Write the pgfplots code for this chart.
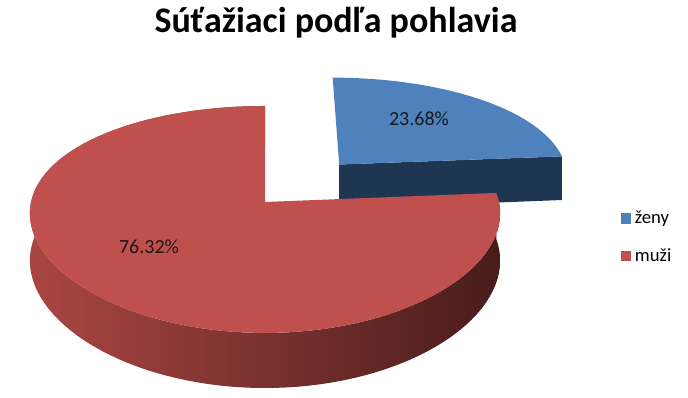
\documentclass[border=0pt]{standalone}
\usepackage{fontspec}
\setmainfont{Carlito}
\usepackage{pgfplots}
\pgfplotsset{compat=1.18}
\definecolor{zblue}{RGB}{79,129,189}
\definecolor{zblueside}{RGB}{31,54,83}
\definecolor{mred}{RGB}{192,80,77}
\definecolor{mredL}{RGB}{170,70,66}
\definecolor{mredR}{RGB}{72,28,28}
% data (percent)
\def\vZ{23.68}
\def\vM{76.32}
\pgfmathsetmacro\aZs{90-3.6*\vZ}
\pgfmathsetmacro\aZe{90}
\pgfmathsetmacro\aMs{90}
\pgfmathsetmacro\aMe{90+3.6*\vM}
\pgfmathsetmacro\aMid{(\aZs+\aZe)/2}
\pgfmathsetmacro\uZ{0.485*cos(\aMid)}
\pgfmathsetmacro\vZo{0.485*sin(\aMid)}
\begin{document}
\begin{tikzpicture}[declare function={
 PX(\u,\v)=265+234*\u/(1+0.1*\v);
 PY(\u,\v,\z)=196+(110.8*\v+46.6*\z)/(1+0.154*\v);
 TA(\t,\p,\q)=\p+(\q-\p)*(\t-1)/100;
 SA(\t,\p,\q)=(\t<=100)*(\p+(\q-\p)*\t/100)+(\t>100)*(\q-(\q-\p)*(\t-101)/100);
}]
\begin{axis}[name=ax,
  width=516pt, height=298.5pt, scale only axis,
  xmin=0, xmax=688, ymin=0, ymax=398,
  hide axis, clip=false,
  legend image code/.code={\fill[#1,draw=none] (0pt,-4pt) rectangle (8pt,4pt);},
  legend style={at={(axis cs:620.5,189)}, anchor=north west, draw=none, fill=none,
    font=\fontsize{14}{17}\selectfont, row sep=14pt, inner sep=0pt,
    nodes={inner xsep=2.6pt, inner ysep=1.5pt}},
  legend cell align=left,
]
% blue slice (zeny), exploded
\addplot[forget plot, draw=none, fill=zblueside, samples at={0,1,2,3}, variable=\t]
 ({PX(\uZ+(\t>0.5)*(\t<2.5)*cos(\aZs), \vZo+(\t>0.5)*(\t<2.5)*sin(\aZs))},
  {PY(\uZ+(\t>0.5)*(\t<2.5)*cos(\aZs), \vZo+(\t>0.5)*(\t<2.5)*sin(\aZs), 0-(\t>1.5))});
\addplot[forget plot, draw=none, fill=zblue, samples at={0,1,...,101}, variable=\t]
 ({PX(\uZ+(\t>0)*cos(TA(\t,\aZs,\aZe)), \vZo+(\t>0)*sin(TA(\t,\aZs,\aZe)))},
  {PY(\uZ+(\t>0)*cos(TA(\t,\aZs,\aZe)), \vZo+(\t>0)*sin(TA(\t,\aZs,\aZe)), 0)});
% red slice (muzi)
\addplot[forget plot, draw=none, left color=mredL, right color=mredR, samples at={0,1,...,201}, variable=\t]
 ({PX(cos(SA(\t,\aMs,\aMe)), sin(SA(\t,\aMs,\aMe)))},
  {PY(cos(SA(\t,\aMs,\aMe)), sin(SA(\t,\aMs,\aMe)), 0-(\t>100))});
\addplot[forget plot, draw=none, fill=mred, samples at={0,1,...,101}, variable=\t]
 ({PX((\t>0)*cos(TA(\t,\aMs,\aMe)), (\t>0)*sin(TA(\t,\aMs,\aMe)))},
  {PY((\t>0)*cos(TA(\t,\aMs,\aMe)), (\t>0)*sin(TA(\t,\aMs,\aMe)), 0)});
\addlegendimage{fill=zblue}
\addlegendentry{ženy}
\addlegendimage{fill=mred}
\addlegendentry{muži}
\node[font=\fontsize{15}{17}\selectfont, text=black!90] at (axis cs:419,279) {23.68\%};
\node[font=\fontsize{15}{17}\selectfont, text=black!90] at (axis cs:149,151) {76.32\%};
\node[anchor=base, font=\bfseries\fontsize{27}{31}\selectfont] at (axis cs:336,365) {Súťažiaci podľa pohlavia};
\end{axis}
\pgfresetboundingbox
\path[use as bounding box] (ax.south west) rectangle (ax.north east);
\end{tikzpicture}
\end{document}
